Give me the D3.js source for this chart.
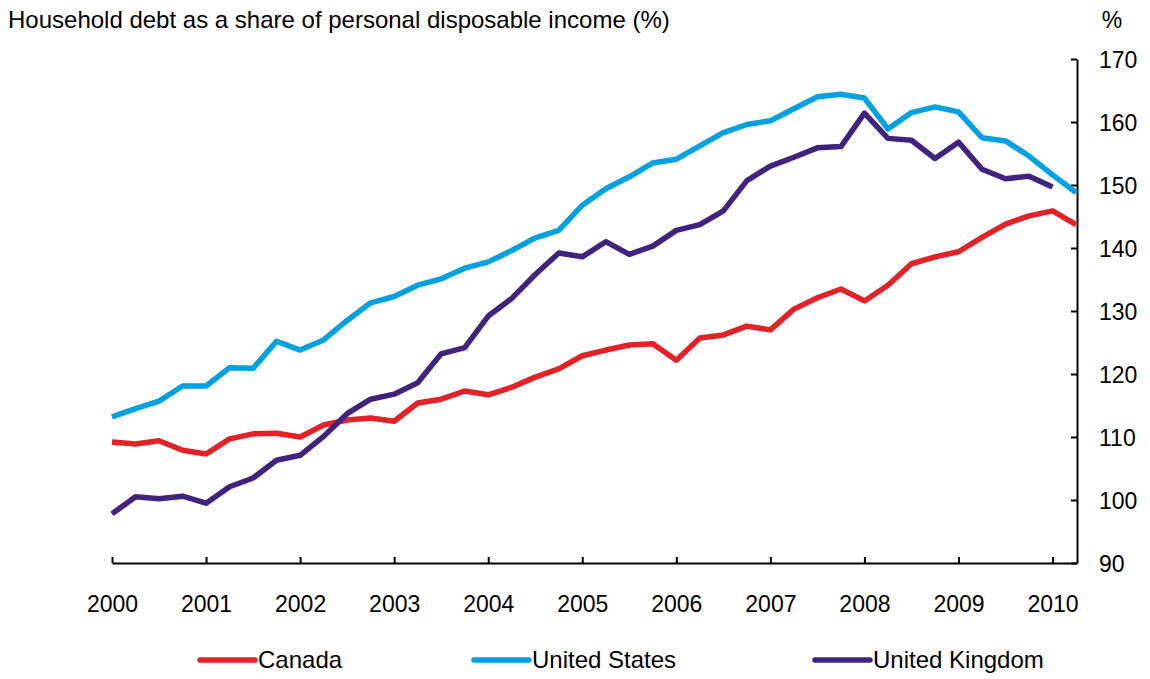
<!DOCTYPE html>
<html>
<head>
<meta charset="utf-8">
<script src="https://cdn.jsdelivr.net/npm/d3@7"></script>
<style>
  body { margin: 0; background: #fff; }
  text { font-family: "Liberation Sans", Arial, sans-serif; fill: #000; }
</style>
</head>
<body>
<div id="chart"></div>
<script>
// quarterly, starting 2000 Q1
var startYear = 2000;
var yearTicks = [2000, 2001, 2002, 2003, 2004, 2005, 2006, 2007, 2008, 2009, 2010];
var valueTicks = [90, 100, 110, 120, 130, 140, 150, 160, 170];

var canada = [109.2, 108.9, 109.4, 107.9, 107.3, 109.7, 110.5, 110.6, 110.0, 111.9,
    112.7, 113.0, 112.5, 115.4, 116.0, 117.3, 116.7, 117.9, 119.5, 120.8,
    122.9, 123.8, 124.6, 124.8, 122.2, 125.7, 126.2, 127.6, 127.0, 130.3,
    132.1, 133.5, 131.6, 134.1, 137.5, 138.6, 139.4, 141.7, 143.8, 145.1,
    145.9, 143.7];
var unitedStates = [113.2, 114.5, 115.7, 118.1, 118.1, 121.0, 120.9, 125.2, 123.8, 125.4,
    128.5, 131.3, 132.3, 134.1, 135.1, 136.8, 137.8, 139.6, 141.6, 142.8,
    146.8, 149.4, 151.3, 153.5, 154.1, 156.2, 158.3, 159.6, 160.2, 162.1,
    164.0, 164.4, 163.8, 158.9, 161.5, 162.4, 161.6, 157.5, 157.0, 154.6,
    151.6, 148.8];
var unitedKingdom = [97.8, 100.5, 100.2, 100.6, 99.5, 102.1, 103.5, 106.3, 107.1, 110.1,
    113.7, 116.0, 116.8, 118.6, 123.2, 124.2, 129.2, 132.0, 135.8, 139.2,
    138.6, 141.0, 139.0, 140.3, 142.8, 143.7, 145.9, 150.7, 153.0, 154.4,
    155.9, 156.1, 161.4, 157.4, 157.1, 154.2, 156.8, 152.5, 151.0, 151.4,
    149.7];

var seriesNames = ["Canada", "United States", "United Kingdom"];
var seriesColors = ["#E42126", "#00A1E1", "#40227F"];

var W = 1150, H = 679;
var margin = { top: 59, right: 73, bottom: 116, left: 112 };

var x = d3.scaleLinear()
    .domain([startYear, startYear + 10.26])
    .range([margin.left, W - margin.right]);
var y = d3.scaleLinear()
    .domain([90, 170])
    .range([H - margin.bottom, margin.top]);

var svg = d3.select("#chart").append("svg")
    .attr("width", W)
    .attr("height", H);

svg.append("text")
    .attr("x", 8)
    .attr("y", 28)
    .style("font-size", "24px")
    .text("Household debt as a share of personal disposable income (%)");

svg.append("text")
    .attr("x", 1112)
    .attr("y", 28)
    .attr("text-anchor", "middle")
    .style("font-size", "23px")
    .text("%");

// x axis, ticks pointing up
var xAxis = svg.append("g")
    .attr("transform", "translate(0," + y(90) + ")")
    .call(d3.axisBottom(x).tickValues(yearTicks).tickFormat(d3.format("d"))
        .tickSizeInner(-6).tickSizeOuter(0).tickPadding(33));

// y axis on the right, ticks pointing left
var yAxis = svg.append("g")
    .attr("transform", "translate(" + x.range()[1] + ",0)")
    .call(d3.axisRight(y).tickValues(valueTicks)
        .tickSizeInner(-6).tickSizeOuter(0).tickPadding(22));

svg.selectAll(".tick text").style("font-size", "23px").attr("font-family", null);
yAxis.selectAll(".tick text").attr("dy", "0.35em");
svg.selectAll(".domain, .tick line")
    .attr("stroke", "#000")
    .attr("stroke-width", 2);

var allSeries = [canada, unitedStates, unitedKingdom];
var line = d3.line()
    .x(function (d, i) { return x(startYear + i / 4); })
    .y(function (d) { return y(d); });

svg.selectAll(".series")
    .data(allSeries)
    .enter().append("path")
    .attr("class", "series")
    .attr("fill", "none")
    .attr("stroke", function (d, i) { return seriesColors[i]; })
    .attr("stroke-width", 5.5)
    .attr("stroke-linejoin", "round")
    .attr("d", line);

// legend
var legendX = [200, 474, 815];
var legend = svg.selectAll(".legend")
    .data(seriesNames)
    .enter().append("g")
    .attr("class", "legend")
    .attr("transform", function (d, i) { return "translate(" + legendX[i] + ",660)"; });

legend.append("line")
    .attr("x1", 0)
    .attr("x2", 55)
    .attr("stroke", function (d, i) { return seriesColors[i]; })
    .attr("stroke-width", 5.5)
    .attr("stroke-linecap", "round");

legend.append("text")
    .attr("x", 58)
    .attr("dy", "0.35em")
    .style("font-size", "24px")
    .text(function (d) { return d; });
</script>
</body>
</html>
